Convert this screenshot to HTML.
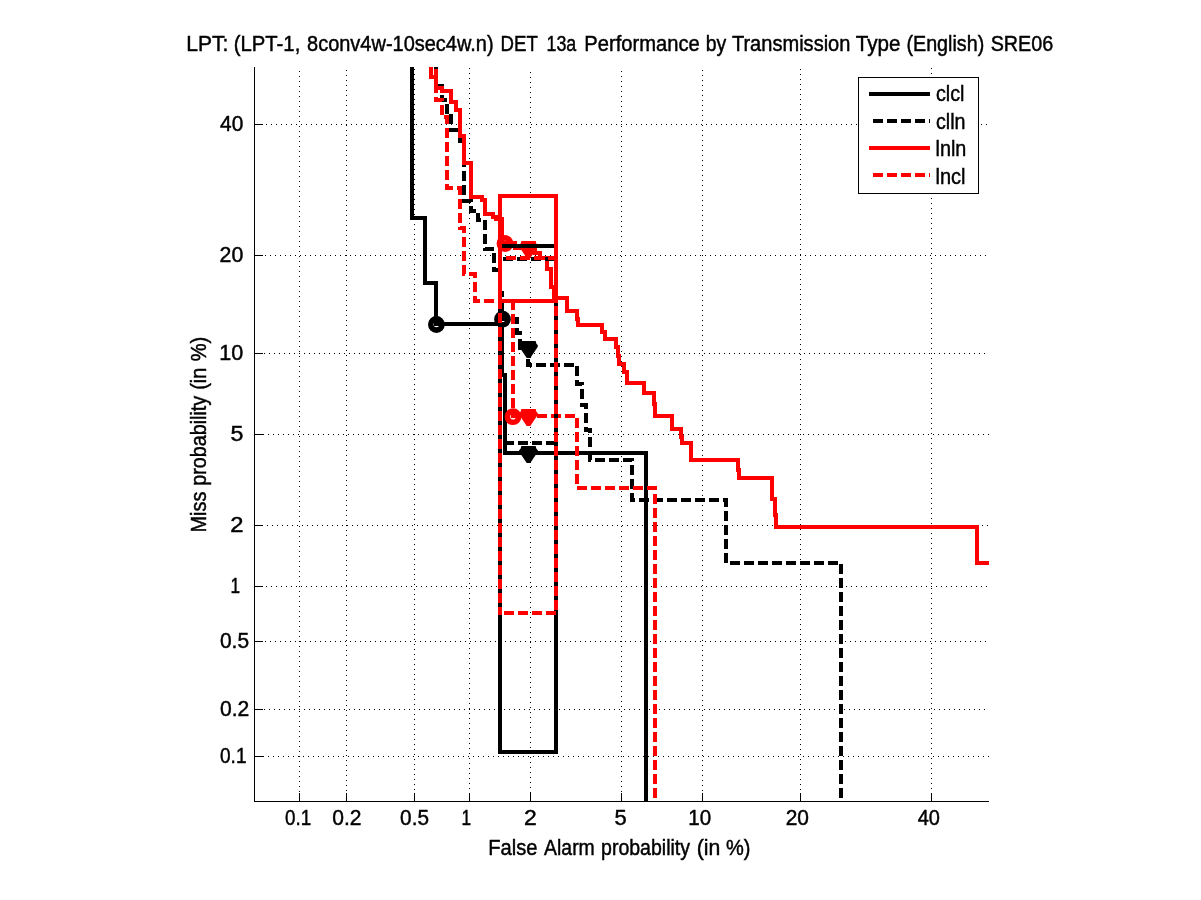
<!DOCTYPE html>
<html lang="en"><head><meta charset="utf-8"><title>DET 13a Performance by Transmission Type</title>
<style>html,body{margin:0;padding:0;background:#fff;overflow:hidden;}svg{display:block;}text{font-family:"Liberation Sans",sans-serif;font-size:21.5px;fill:#000;stroke:#000;stroke-width:0.45px;}</style></head><body>
<svg width="1201" height="900" viewBox="0 0 1201 900">
<rect x="0" y="0" width="1201" height="900" fill="#fff"/>
<g stroke="#000" stroke-width="1" stroke-dasharray="1 4" shape-rendering="crispEdges" fill="none">
<line x1="299.5" y1="71" x2="299.5" y2="800"/>
<line x1="346.5" y1="70" x2="346.5" y2="800"/>
<line x1="414.5" y1="69" x2="414.5" y2="800"/>
<line x1="469.5" y1="68" x2="469.5" y2="800"/>
<line x1="530.5" y1="72" x2="530.5" y2="800"/>
<line x1="621.5" y1="71" x2="621.5" y2="800"/>
<line x1="702.5" y1="70" x2="702.5" y2="800"/>
<line x1="800.5" y1="69" x2="800.5" y2="800"/>
<line x1="931.5" y1="68" x2="931.5" y2="800"/>
<line x1="258" y1="756.5" x2="989" y2="756.5"/>
<line x1="259" y1="709.5" x2="989" y2="709.5"/>
<line x1="260" y1="641.5" x2="989" y2="641.5"/>
<line x1="256" y1="586.5" x2="989" y2="586.5"/>
<line x1="257" y1="525.5" x2="989" y2="525.5"/>
<line x1="258" y1="434.5" x2="989" y2="434.5"/>
<line x1="259" y1="353.5" x2="989" y2="353.5"/>
<line x1="260" y1="255.5" x2="989" y2="255.5"/>
<line x1="256" y1="124.5" x2="989" y2="124.5"/>
</g>
<g stroke="#000" stroke-width="1" shape-rendering="crispEdges" fill="none">
<line x1="254.5" y1="67" x2="254.5" y2="802"/>
<line x1="254" y1="801.5" x2="989" y2="801.5"/>
<line x1="299.5" y1="801" x2="299.5" y2="793"/>
<line x1="254" y1="756.5" x2="263" y2="756.5"/>
<line x1="346.5" y1="801" x2="346.5" y2="793"/>
<line x1="254" y1="709.5" x2="263" y2="709.5"/>
<line x1="414.5" y1="801" x2="414.5" y2="793"/>
<line x1="254" y1="641.5" x2="263" y2="641.5"/>
<line x1="469.5" y1="801" x2="469.5" y2="793"/>
<line x1="254" y1="586.5" x2="263" y2="586.5"/>
<line x1="530.5" y1="801" x2="530.5" y2="793"/>
<line x1="254" y1="525.5" x2="263" y2="525.5"/>
<line x1="621.5" y1="801" x2="621.5" y2="793"/>
<line x1="254" y1="434.5" x2="263" y2="434.5"/>
<line x1="702.5" y1="801" x2="702.5" y2="793"/>
<line x1="254" y1="353.5" x2="263" y2="353.5"/>
<line x1="800.5" y1="801" x2="800.5" y2="793"/>
<line x1="254" y1="255.5" x2="263" y2="255.5"/>
<line x1="931.5" y1="801" x2="931.5" y2="793"/>
<line x1="254" y1="124.5" x2="263" y2="124.5"/>
</g>
<g fill="none" stroke-width="4" stroke-linejoin="miter" shape-rendering="crispEdges">
<polyline points="412,67 412,218 425,218 425,282.5 436,282.5 436,324 502,324 502,375 505,375 505,453 646,453 646,801" stroke="#000"/>
<polyline points="436,67 436,86 442,86 442,100 447,100 447,114 451,114 451,130 460,130 460,143 464,143 464,201 471,201 471,211 478,211 478,220 485,220 485,249 494,249 494,270 500,270 500,293 502,293 502,319 517,319 517,333 520,333 520,348 528,348 528,365 577,365 577,384 582,384 582,405 586,405 586,430 590,430 590,460 632,460 632,500 726,500 726,563 841,563 841,801" stroke="#000" stroke-dasharray="10 4" stroke-dashoffset="8"/>
<polyline points="431,67 431,77 436,77 436,88 442,88 442,91 451,91 451,102 456,102 456,110 460,110 460,136 464,136 464,163 471,163 471,197 482,197 482,200 485,200 485,214 493,214 493,217 496,217 496,219 502,219 502,243 515,243 515,248 528,248 535,248 535,253 540,253 540,258 547,258 547,269 551,269 551,287 554,287 554,298 567,298 567,311 577,311 577,319 578,319 578,325 602,325 602,332 605,332 605,339 616,339 616,347 618,347 618,356 619,356 619,364 624,364 624,372 627,372 627,383 644,383 644,393 654,393 654,404 655,404 655,416 672,416 672,429 681,429 681,437 682,437 682,443 691,443 691,460 738,460 738,470 739,470 739,478 772,478 772,499 775,499 775,515 776,515 776,527 977,527 977,563 989,563" stroke="#f00"/>
<polyline points="436,67 436,100 442,100 442,117 447,117 447,188 460,188 460,228 464,228 464,274 475,274 475,301 513,301 513,416 577,416 577,488 655,488 655,798" stroke="#f00" stroke-dasharray="10 4" stroke-dashoffset="12"/>
</g>
<g>
<circle cx="436.4" cy="324.5" r="5.6" fill="none" stroke="#000" stroke-width="5.6"/>
<polygon points="521.3,446 535.7,446 536.3,448.5 538,450.4 537.5,452.2 530.3,463 526.7,463 519.5,452.2 519,450.4 520.7,448.5" fill="#000"/>
<circle cx="502.5" cy="319.2" r="5.6" fill="none" stroke="#000" stroke-width="5.6"/>
<polygon points="521.3,341 535.7,341 536.3,343.5 538,345.4 537.5,347.2 530.3,358 526.7,358 519.5,347.2 519,345.4 520.7,343.5" fill="#000"/>
<circle cx="505" cy="243.5" r="5.6" fill="none" stroke="#f00" stroke-width="5.6"/>
<polygon points="521.3,241 535.7,241 536.3,243.5 538,245.4 537.5,247.2 530.3,258 526.7,258 519.5,247.2 519,245.4 520.7,243.5" fill="#f00"/>
<circle cx="513" cy="416.7" r="5.6" fill="none" stroke="#f00" stroke-width="5.6"/>
<polygon points="521.3,409 535.7,409 536.3,411.5 538,413.4 537.5,415.2 530.3,426 526.7,426 519.5,415.2 519,413.4 520.7,411.5" fill="#f00"/>
</g>
<g fill="none" stroke-width="4" stroke-linejoin="miter" stroke-linecap="butt" shape-rendering="crispEdges">
<polyline points="500,751.5 556,751.5 556,246 500,246 500,753.5" stroke="#000"/>
<polyline points="500,443 556,443 556,259 500,259 500,445" stroke="#000" stroke-dasharray="10 4" stroke-dashoffset="10.5"/>
<polyline points="500,301 556,301 556,196 500,196 500,303" stroke="#f00"/>
<polyline points="500,613 556,613 556,258 500,258 500,615" stroke="#f00" stroke-dasharray="10 4" stroke-dashoffset="10.5"/>
</g>
<g shape-rendering="crispEdges">
<rect x="858.5" y="77.5" width="120" height="116" fill="#fff" stroke="#000" stroke-width="1"/>
<line x1="869" y1="94" x2="930" y2="94" stroke="#000" stroke-width="4"/>
<line x1="869" y1="121" x2="930" y2="121" stroke="#000" stroke-width="4" stroke-dasharray="10 4" stroke-dashoffset="10"/>
<line x1="869" y1="148" x2="930" y2="148" stroke="#f00" stroke-width="4"/>
<line x1="869" y1="175" x2="930" y2="175" stroke="#f00" stroke-width="4" stroke-dasharray="10 4" stroke-dashoffset="10"/>
</g>
<text y="101"><tspan x="935.98" textLength="28.55" lengthAdjust="spacingAndGlyphs">clcl</tspan></text>
<text y="129"><tspan x="935.99" textLength="29.50" lengthAdjust="spacingAndGlyphs">clln</tspan></text>
<text y="156"><tspan x="935.52" textLength="30.83" lengthAdjust="spacingAndGlyphs">lnln</tspan></text>
<text y="184"><tspan x="935.51" textLength="30.00" lengthAdjust="spacingAndGlyphs">lncl</tspan></text>
<text y="825"><tspan x="285.04" textLength="26.15" lengthAdjust="spacingAndGlyphs">0.1</tspan></text>
<text y="825"><tspan x="332.27" textLength="29.25" lengthAdjust="spacingAndGlyphs">0.2</tspan></text>
<text y="825"><tspan x="400.08" textLength="28.88" lengthAdjust="spacingAndGlyphs">0.5</tspan></text>
<text y="825"><tspan x="461.40" textLength="9.57" lengthAdjust="spacingAndGlyphs">1</tspan></text>
<text y="825"><tspan x="523.93" textLength="12.75" lengthAdjust="spacingAndGlyphs">2</tspan></text>
<text y="825"><tspan x="614.58" textLength="12.20" lengthAdjust="spacingAndGlyphs">5</tspan></text>
<text y="825"><tspan x="688.33" textLength="22.85" lengthAdjust="spacingAndGlyphs">10</tspan></text>
<text y="825"><tspan x="785.73" textLength="23.26" lengthAdjust="spacingAndGlyphs">20</tspan></text>
<text y="825"><tspan x="917.74" textLength="22.21" lengthAdjust="spacingAndGlyphs">40</tspan></text>
<text y="131"><tspan x="220.12" textLength="23.17" lengthAdjust="spacingAndGlyphs">40</tspan></text>
<text y="262"><tspan x="219.61" textLength="23.70" lengthAdjust="spacingAndGlyphs">20</tspan></text>
<text y="360"><tspan x="219.25" textLength="23.97" lengthAdjust="spacingAndGlyphs">10</tspan></text>
<text y="441"><tspan x="230.42" textLength="12.91" lengthAdjust="spacingAndGlyphs">5</tspan></text>
<text y="532"><tspan x="230.39" textLength="13.25" lengthAdjust="spacingAndGlyphs">2</tspan></text>
<text y="593"><tspan x="230.50" textLength="9.57" lengthAdjust="spacingAndGlyphs">1</tspan></text>
<text y="648"><tspan x="219.97" textLength="29.09" lengthAdjust="spacingAndGlyphs">0.5</tspan></text>
<text y="716"><tspan x="219.96" textLength="29.35" lengthAdjust="spacingAndGlyphs">0.2</tspan></text>
<text y="763"><tspan x="220.04" textLength="26.47" lengthAdjust="spacingAndGlyphs">0.1</tspan></text>
<text y="51"><tspan x="186.29" textLength="42.09" lengthAdjust="spacingAndGlyphs">LPT:</tspan> <tspan x="233.82" textLength="66.46" lengthAdjust="spacingAndGlyphs">(LPT-1,</tspan> <tspan x="307.07" textLength="186.51" lengthAdjust="spacingAndGlyphs">8conv4w-10sec4w.n)</tspan> <tspan x="500.50" textLength="36.93" lengthAdjust="spacingAndGlyphs">DET</tspan> <tspan x="546.55" textLength="29.74" lengthAdjust="spacingAndGlyphs">13a</tspan> <tspan x="584.36" textLength="115.42" lengthAdjust="spacingAndGlyphs">Performance</tspan> <tspan x="705.64" textLength="20.54" lengthAdjust="spacingAndGlyphs">by</tspan> <tspan x="731.93" textLength="118.50" lengthAdjust="spacingAndGlyphs">Transmission</tspan> <tspan x="855.72" textLength="44.71" lengthAdjust="spacingAndGlyphs">Type</tspan> <tspan x="906.45" textLength="77.77" lengthAdjust="spacingAndGlyphs">(English)</tspan> <tspan x="990.68" textLength="62.52" lengthAdjust="spacingAndGlyphs">SRE06</tspan></text>
<text y="854.6"><tspan x="488.16" textLength="49.31" lengthAdjust="spacingAndGlyphs">False</tspan> <tspan x="544.10" textLength="50.66" lengthAdjust="spacingAndGlyphs">Alarm</tspan> <tspan x="601.04" textLength="88.99" lengthAdjust="spacingAndGlyphs">probability</tspan> <tspan x="696.76" textLength="23.61" lengthAdjust="spacingAndGlyphs">(in</tspan> <tspan x="726.00" textLength="24.49" lengthAdjust="spacingAndGlyphs">%)</tspan></text>
<text transform="translate(206,530.9) rotate(-90)"><tspan x="-1.62" textLength="40.85" lengthAdjust="spacingAndGlyphs">Miss</tspan> <tspan x="45.12" textLength="90.01" lengthAdjust="spacingAndGlyphs">probability</tspan> <tspan x="141.05" textLength="22.04" lengthAdjust="spacingAndGlyphs">(in</tspan> <tspan x="169.60" textLength="24.60" lengthAdjust="spacingAndGlyphs">%)</tspan></text>
</svg></body></html>
